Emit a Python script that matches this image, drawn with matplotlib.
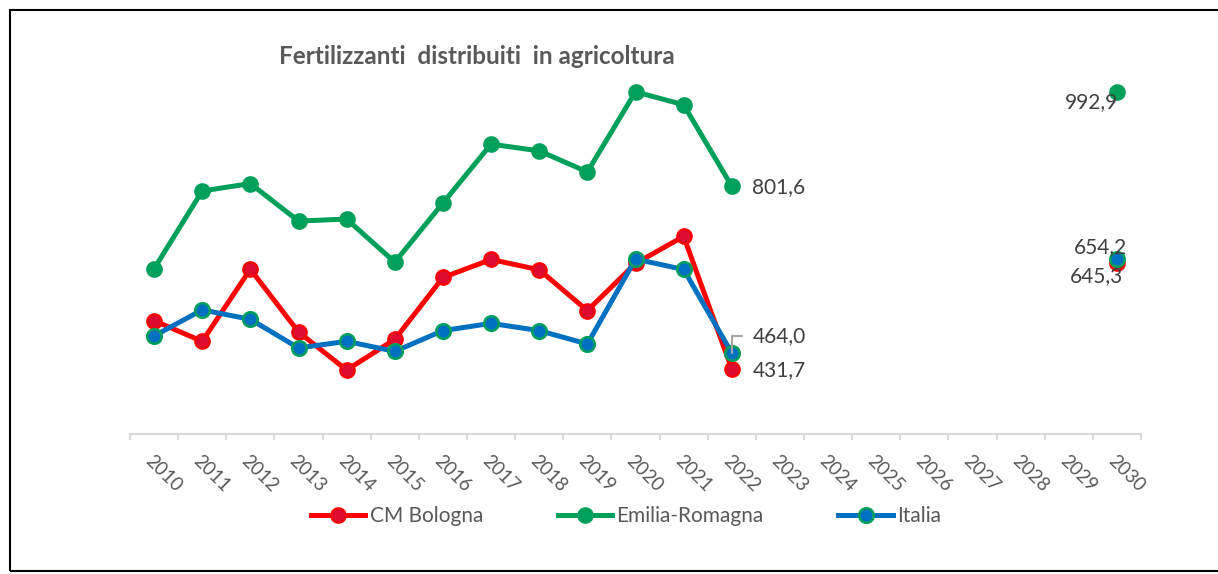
import numpy as np
import matplotlib.pyplot as plt
from matplotlib.patches import Rectangle

plt.rcParams['font.family'] = ['Lato', 'DejaVu Sans']

### data (2023-2029 empty)
years = [str(y) for y in range(2010, 2031)]
nan = np.nan
cm_bologna = [529.6, 487.6, 633.7, 506.6, 429.5, 491.6, 616.9, 653.4, 632.5, 549.9,
              645.3, 700.1, 431.7, nan, nan, nan, nan, nan, nan, nan, 645.3]
emilia_romagna = [634.5, 792.1, 807.1, 731.2, 735.2, 647.9, 767.7, 886.9, 873.3, 830.6,
                  992.9, 966.6, 801.6, nan, nan, nan, nan, nan, nan, nan, 992.9]
italia = [498.5, 551.3, 532.2, 474.2, 487.6, 467.3, 509.3, 524.1, 509.3, 482.3,
          654.2, 633.1, 464.0, nan, nan, nan, nan, nan, nan, nan, 654.2]

red = '#FF0000'
green = '#00A05B'
blue = '#0070C0'
grey_txt = '#595959'
lbl_txt = '#404040'

fig = plt.figure(figsize=(12.18, 5.74), dpi=100)
ax = fig.add_axes([130/1218, 1-434/574, (1141-130)/1218, (434-88.3)/574])

x = np.arange(len(years))
ax.plot(x, cm_bologna, '-o', color=red, lw=3.6, ms=10.5, mfc='#DE0A2F', mec=red, mew=1.5,
        label='CM Bologna', clip_on=False)
ax.plot(x, emilia_romagna, '-o', color=green, lw=3.6, ms=10.5, mfc=green, mec=green, mew=1.5,
        label='Emilia-Romagna', clip_on=False)
ax.plot(x, italia, '-o', color=blue, lw=3.6, ms=10.5, mfc=blue, mec=green, mew=1.8,
        label='Italia', clip_on=False)

ax.set_xlim(-0.5, len(years) - 0.5)
ax.set_ylim(300, 1000)

# axis look
for s in ['left', 'right', 'top']:
    ax.spines[s].set_visible(False)
ax.spines['bottom'].set_color('#D9D9D9')
ax.spines['bottom'].set_linewidth(1.5)
ax.set_yticks([])
ax.set_xticks(x)
ax.set_xticklabels(years, rotation=-45, ha='left', va='top', rotation_mode='anchor',
                   fontsize=13.5, color=grey_txt)
ax.set_xticks(np.arange(-0.5, len(years), 1), minor=True)
ax.tick_params(axis='x', which='major', length=0, pad=13)
ax.tick_params(axis='x', which='minor', length=4.5, width=1.5, color='#D9D9D9')

# data labels
def lab(txt, xi, yv, dx, dy, ha):
    ax.annotate(txt, xy=(xi, yv), xytext=(dx, dy), textcoords='offset pixels',
                ha=ha, va='center', fontsize=15, color=lbl_txt)

lab('801,6', 12, emilia_romagna[12], 20, -1, 'left')
lab('431,7', 12, cm_bologna[12], 21, -1, 'left')
lab('992,9', 20, emilia_romagna[20], 1, -10, 'right')
lab('654,2', 20, italia[20], 10, 12, 'right')
lab('645,3', 20, cm_bologna[20], 6, -13, 'right')
ax.annotate('464,0', xy=(12, italia[12]), xytext=(21, 17), textcoords='offset pixels',
            ha='left', va='center', fontsize=15, color=lbl_txt,
            arrowprops=dict(arrowstyle='-', color='#A6A6A6', lw=1.5, relpos=(0, 0.5),
                            connectionstyle='angle,angleA=0,angleB=90,rad=0',
                            shrinkA=6, shrinkB=0))

fig.text(476.5/1218, 1-64/574, 'Fertilizzanti  distribuiti  in agricoltura', ha='center',
         va='baseline', fontsize=17.5, weight='bold', color=grey_txt)

fig.legend(loc='center', bbox_to_anchor=(626/1218, 1-516/574), ncol=3, frameon=False,
           fontsize=15, labelcolor=grey_txt, handlelength=2.6, handletextpad=0.2,
           columnspacing=3.6)

# frame round the chart (cut on the right as in the original)
fig.add_artist(Rectangle((10/1218, 1-571/574), 1.0, 561/574, transform=fig.transFigure,
                         fill=False, ec='black', lw=1.5))

fig.savefig('out.png', dpi=100)
